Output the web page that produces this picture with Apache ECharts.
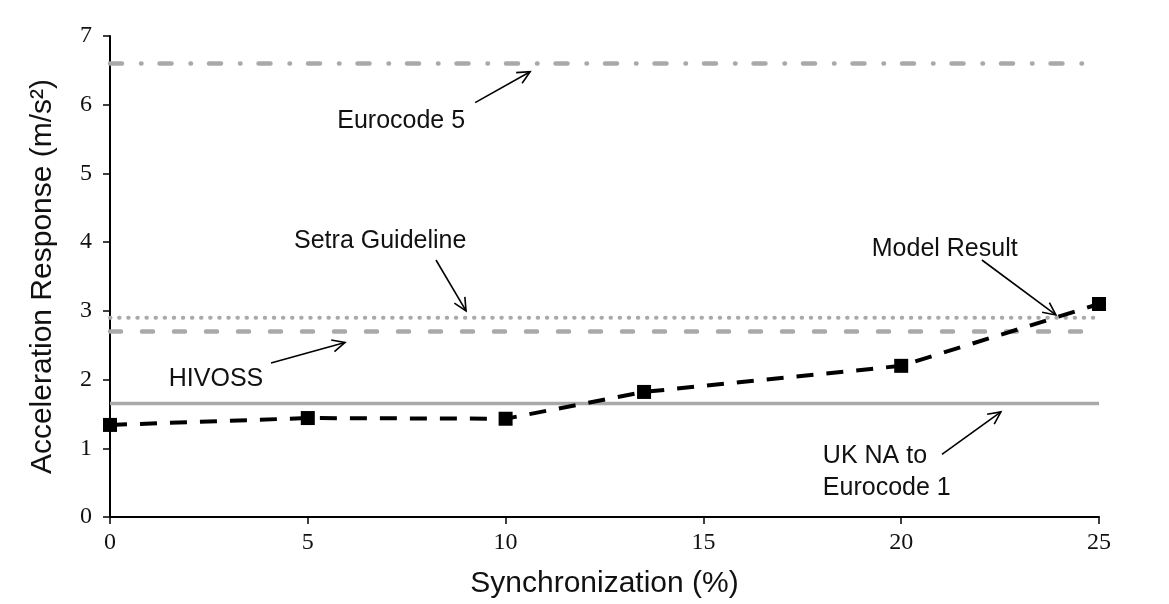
<!DOCTYPE html>
<html>
<head>
<meta charset="utf-8">
<script src="https://cdn.jsdelivr.net/npm/echarts@6/dist/echarts.min.js"></script>
<style>html,body{margin:0;padding:0;background:#fff}#c{width:1169px;height:604px}</style>
</head>
<body>
<div id="c"></div>
<script>
// ---- data ----
const synchronization = [0, 5, 10, 13.5, 20, 25];
const modelResult = [1.34, 1.44, 1.43, 1.82, 2.2, 3.1];
const guidelineNames = ['Eurocode 5', 'Setra Guideline', 'HIVOSS', 'UK NA to Eurocode 1'];
const guidelineValues = [6.6, 2.9, 2.7, 1.65];
const xRange = [0, 25];
const xTicks = [0, 5, 10, 15, 20, 25];
const yTicks = [0, 1, 2, 3, 4, 5, 6, 7];
// annotations (data coordinates)
const annotationTexts = ['Eurocode 5', 'Setra Guideline', 'HIVOSS', 'Model Result', 'UK NA to\nEurocode 1'];
const annotationX = [7.36, 6.83, 2.68, 21.1, 18.02];
const annotationY = [5.76, 4.01, 2.01, 3.9, 0.65];
const arrowFromX = [9.23, 8.24, 4.07, 22.04, 21.03];
const arrowFromY = [6.03, 3.74, 2.24, 3.74, 0.91];
const arrowToX = [10.62, 9.0, 5.94, 23.91, 22.52];
const arrowToY = [6.48, 3.0, 2.54, 2.94, 1.53];

const gray = '#a9a9a9';
const guideStyles = [
  {width: 4.5, type: [12, 19, 0.5, 18], cap: 'round'},
  {width: 4, type: [0.5, 8.6], cap: 'round'},
  {width: 4.5, type: [11, 21], cap: 'round'},
  {width: 3.5, type: 'solid', cap: 'butt'}
];

const chart = echarts.init(document.getElementById('c'), null, {renderer: 'canvas'});

const series = [];
guidelineNames.forEach((n, i) => {
  series.push({
    name: n, type: 'line', symbol: 'none', silent: true,
    data: xRange.map(x => [x, guidelineValues[i]]),
    lineStyle: Object.assign({color: gray}, guideStyles[i]),
    z: 2
  });
});
series.push({
  name: 'Model Result', type: 'line',
  data: synchronization.map((x, i) => [x, modelResult[i]]),
  symbol: 'rect', symbolSize: 14,
  itemStyle: {color: '#000'},
  lineStyle: {color: '#000', width: 4, type: [17, 13]},
  z: 5
});
series.push({
  type: 'custom', silent: true, clip: false, z: 6,
  data: arrowFromX.map((x, i) => [x, arrowFromY[i], arrowToX[i], arrowToY[i]]),
  encode: {x: [0, 2], y: [1, 3]},
  renderItem: function (params, api) {
    const p1 = api.coord([api.value(0), api.value(1)]);
    const p2 = api.coord([api.value(2), api.value(3)]);
    const ang = Math.atan2(p2[1] - p1[1], p2[0] - p1[0]);
    const L = 14, a = Math.PI / 7;
    const h1 = [p2[0] - L * Math.cos(ang - a), p2[1] - L * Math.sin(ang - a)];
    const h2 = [p2[0] - L * Math.cos(ang + a), p2[1] - L * Math.sin(ang + a)];
    const st = {stroke: '#000', lineWidth: 1.6, fill: null};
    return {type: 'group', children: [
      {type: 'line', shape: {x1: p1[0], y1: p1[1], x2: p2[0], y2: p2[1]}, style: st},
      {type: 'polyline', shape: {points: [h1, p2, h2]}, style: st}
    ]};
  }
});
series.push({
  type: 'custom', silent: true, clip: false, z: 6,
  data: annotationX.map((x, i) => [x, annotationY[i]]),
  renderItem: function (params, api) {
    const p = api.coord([api.value(0), api.value(1)]);
    const i = params.dataIndex;
    const multi = annotationTexts[i].indexOf('\n') >= 0;
    return {type: 'text', x: p[0], y: p[1], style: {
      text: annotationTexts[i], fill: '#111',
      font: '25px "Liberation Sans", Arial, sans-serif',
      align: multi ? 'left' : 'center', verticalAlign: 'middle', lineHeight: 32
    }};
  }
});

chart.setOption({
  animation: false,
  backgroundColor: '#fff',
  grid: {left: 110, right: 70, top: 36, bottom: 83, containLabel: false},
  xAxis: {
    type: 'value', min: 0, max: 25, interval: 5,
    name: 'Synchronization (%)', nameLocation: 'middle', nameGap: 52,
    nameTextStyle: {fontFamily: '"Liberation Sans", Arial, sans-serif', fontSize: 30, color: '#111'},
    axisLine: {show: true, lineStyle: {color: '#000', width: 2}},
    axisTick: {show: true, inside: false, length: 7, lineStyle: {color: '#000', width: 1.5}},
    axisLabel: {fontFamily: '"Liberation Serif", "Times New Roman", serif', fontSize: 24, color: '#111', margin: 14,
      customValues: xTicks},
    splitLine: {show: false}
  },
  yAxis: {
    type: 'value', min: 0, max: 7, interval: 1,
    name: 'Acceleration Response (m/s²)', nameLocation: 'middle', nameGap: 52, nameRotate: 90,
    nameTextStyle: {fontFamily: '"Liberation Sans", Arial, sans-serif', fontSize: 30, color: '#111'},
    axisLine: {show: true, lineStyle: {color: '#000', width: 2}},
    axisTick: {show: true, inside: false, length: 7, lineStyle: {color: '#000', width: 1.5}},
    axisLabel: {fontFamily: '"Liberation Serif", "Times New Roman", serif', fontSize: 24, color: '#111', margin: 18},
    splitLine: {show: false}
  },
  series: series
});
</script>
</body>
</html>
